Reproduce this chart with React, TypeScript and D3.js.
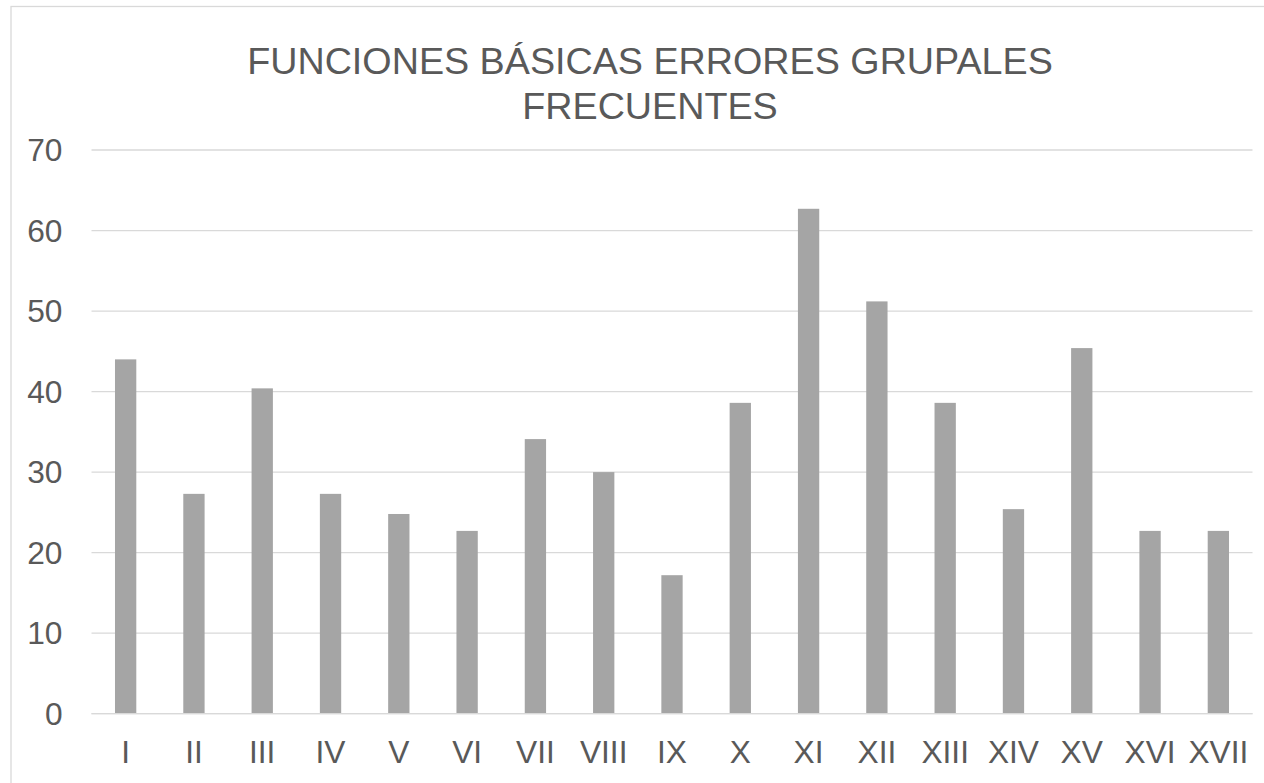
import React from "react";
import * as d3 from "d3";

const categories = ["I", "II", "III", "IV", "V", "VI", "VII", "VIII", "IX", "X", "XI", "XII", "XIII", "XIV", "XV", "XVI", "XVII"];
const values = [44, 27.3, 40.4, 27.3, 24.8, 22.7, 34.1, 30, 17.2, 38.6, 62.7, 51.2, 38.6, 25.4, 45.4, 22.7, 22.7];
const yTicks = [0, 10, 20, 30, 40, 50, 60, 70];
const titleLines = ["FUNCIONES BÁSICAS ERRORES GRUPALES", "FRECUENTES"];

const W = 1264;
const H = 783;
const left = 91.5;
const right = 1252.5;
const top = 150;
const bottom = 713.7;
const textColor = "#595959";
const font = "'Liberation Sans', Arial, sans-serif";

export default function App() {
  const x = d3.scaleBand<string>().domain(categories).range([left, right]).paddingInner(0.688).paddingOuter(0.344);
  const y = d3.scaleLinear().domain([0, 70]).range([bottom, top]);

  return (
    <svg width={W} height={H} style={{ position: "absolute", left: 0, top: 0, background: "#fff" }} fontFamily={font}>
      <rect x={0} y={0} width={W} height={H} fill="#fff" />
      <rect x={11} y={6.5} width={1290} height={800} fill="#fff" stroke="#d9d9d9" strokeWidth={1.3} />
      {titleLines.map((t, i) => (
        <text key={t} x={650} y={74.3 + i * 45} textAnchor="middle" fontSize={37.7} fill={textColor}>
          {t}
        </text>
      ))}
      {yTicks.map((t) => (
        <g key={t}>
          <line x1={left} x2={right} y1={y(t)} y2={y(t)} stroke="#d9d9d9" strokeWidth={1.3} />
          <text x={62.5} y={y(t) + 11.3} textAnchor="end" fontSize={31.7} fill={textColor}>
            {t}
          </text>
        </g>
      ))}
      {categories.map((c, i) => (
        <rect
          key={c}
          x={x(c)!}
          y={y(values[i])}
          width={x.bandwidth()}
          height={y(0) - y(values[i])}
          fill="#a5a5a5"
        />
      ))}
      <line x1={left} x2={right} y1={y(0)} y2={y(0)} stroke="#d9d9d9" strokeWidth={1.3} />
      {categories.map((c) => (
        <text key={c} x={x(c)! + x.bandwidth() / 2} y={762.7} textAnchor="middle" fontSize={31.7} fill={textColor}>
          {c}
        </text>
      ))}
    </svg>
  );
}
